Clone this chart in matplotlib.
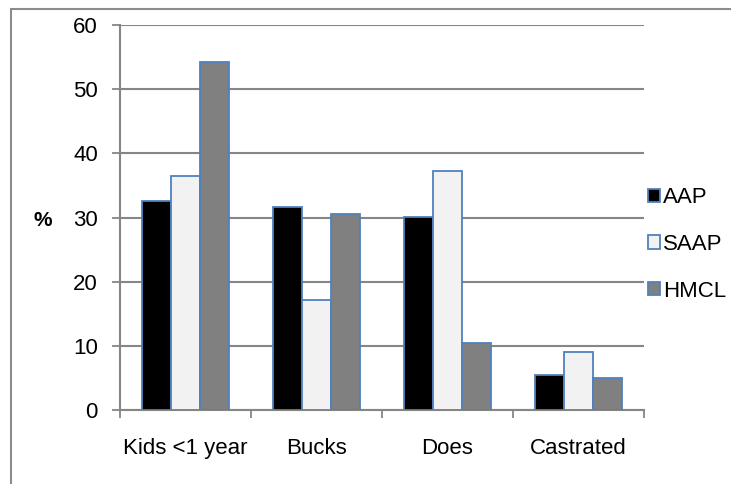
import matplotlib.pyplot as plt
import numpy as np
from matplotlib.patches import Rectangle

categories = ["Kids <1 year", "Bucks", "Does", "Castrated"]
series = ["AAP", "SAAP", "HMCL"]
aap = [32.6, 31.6, 30.1, 5.5]
saap = [36.5, 17.2, 37.3, 9.1]
hmcl = [54.2, 30.5, 10.4, 5.0]
colors = ["#000000", "#F2F2F2", "#808080"]
yticks = [0, 10, 20, 30, 40, 50, 60]

plt.rcParams['font.family'] = ['Liberation Sans', 'DejaVu Sans']

fig = plt.figure(figsize=(7.31, 4.84), dpi=100)
ax = fig.add_axes([120 / 731, (484 - 410) / 484, (644 - 120) / 731, (410 - 25) / 484])

# outer chart border
fig.patches.append(Rectangle((11 / 731, -0.1), 1.0, (484 - 9) / 484 + 0.1,
                             transform=fig.transFigure, fill=False,
                             edgecolor="#8C8C8C", linewidth=1.5))

x = np.arange(len(categories))
w = 1 / 4.5
for i, (vals, name) in enumerate(zip([aap, saap, hmcl], series)):
    ax.bar(x + (i - 1) * w, vals, w, color=colors[i], edgecolor="#4F81BD",
           linewidth=1.3, label=name, zorder=3)

ax.set_xlim(-0.5, len(categories) - 0.5)
ax.set_ylim(0, 60)
ax.set_yticks(yticks)
ax.set_xticks(x)
ax.set_xticklabels(categories)
ax.set_xticks(np.arange(-0.5, len(categories), 1), minor=True)
ax.tick_params(axis="x", which="major", length=0, pad=20, labelsize=16)
ax.tick_params(axis="x", which="minor", length=6, color="#868686", width=1.3)
ax.tick_params(axis="y", length=6, color="#868686", width=1.3, pad=10, labelsize=16)
ax.grid(axis="y", color="#868686", linewidth=1.5, zorder=0)
for s in ["top", "right"]:
    ax.spines[s].set_visible(False)
for s in ["left", "bottom"]:
    ax.spines[s].set_color("#868686")
    ax.spines[s].set_linewidth(1.5)

fig.text(43 / 731, 1 - 221 / 484, "%", fontsize=15, fontweight="bold",
         ha="center", va="center")

ax.legend(loc="center left", bbox_to_anchor=(0.99, 0.43), frameon=False,
          fontsize=16, handlelength=0.55, handleheight=0.55, handletextpad=0.15,
          labelspacing=1.15, borderaxespad=0)

fig.savefig("out.png", dpi=100)
